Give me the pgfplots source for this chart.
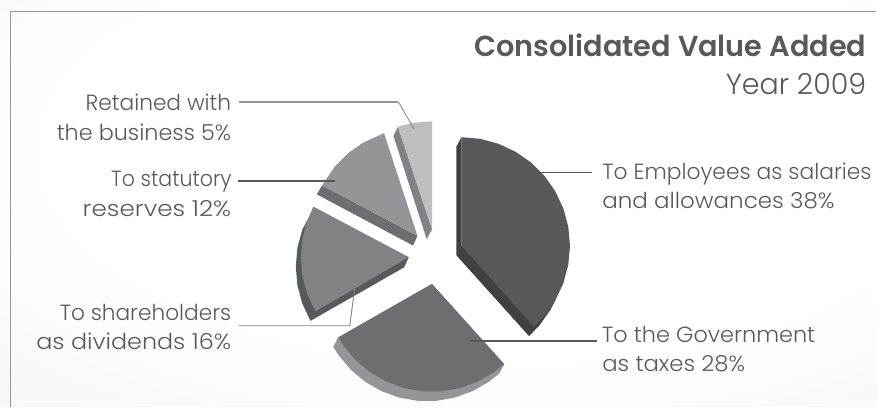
\documentclass[border=0pt]{standalone}
\usepackage{fontspec}
\setmainfont{Poppins}[UprightFont=* Light, BoldFont=* SemiBold]
\usepackage{graphicx}
\usepackage{pgfplots}
\pgfplotsset{compat=1.18}
\definecolor{inkA}{HTML}{58595B}
\definecolor{inkB}{HTML}{414042}
\definecolor{inkC}{HTML}{6D6E71}
\definecolor{inkD}{HTML}{939598}
\definecolor{inkE}{HTML}{808285}
\definecolor{inkF}{HTML}{BCBEC0}
\definecolor{paper}{HTML}{EFF0F0}
\pgfdeclareradialshading{backdrop}{\pgfpoint{8bp}{14bp}}{color(0bp)=(white);color(26bp)=(white);color(50bp)=(paper)}

% x, baseline, width in px, text
\newcommand{\labR}[4]{\node[anchor=base east,text=inkA,inner sep=0pt,font=\fontsize{22}{22}\selectfont] at (axis cs:#1,#2) {\resizebox{#3pt}{\height}{#4}};}
\newcommand{\labL}[4]{\node[anchor=base west,text=inkA,inner sep=0pt,font=\fontsize{22}{22}\selectfont] at (axis cs:#1,#2) {\resizebox{#3pt}{\height}{#4}};}

\begin{document}
\begin{tikzpicture}
\begin{axis}[
    scale only axis, width=877pt, height=407pt,
    xmin=0, xmax=877, ymin=0, ymax=407, y dir=reverse,
    axis lines=none, clip=false]

% backdrop, pixel coordinates of the picture
\shade[shading=backdrop] (axis cs:0,0) rectangle (axis cs:877,407);
\addplot[inkD, line width=1.2pt] coordinates {(10.5,407) (10.5,11.5) (877,11.5)};

% side faces
\addplot[fill=inkB, draw=none] coordinates {(461.7,137.3) (456.7,146.8) (456.7,255.5) (529.4,336.3) (540,325.4) (550.8,309.9) (555.8,300.4) (461.7,246)} --cycle;
\addplot[fill=inkD, draw=none] coordinates {(338.5,337.5) (333.5,347) (338.8,355.4) (350.9,369.9) (365.4,382) (381.7,391.4) (399.3,397.8) (417.9,401.1) (436.7,401.1) (455.3,397.8) (472.9,391.4) (489.2,382) (499.6,373.8) (504.6,364.3)} --cycle;
\addplot[fill=inkA, draw=none] coordinates {(307.5,220.4) (302.5,229.9) (297.6,248) (296,266.8) (297.6,285.6) (302.5,303.7) (310.7,321.1) (404.5,267.5) (409,257.3)} --cycle;
\addplot[fill=inkC, draw=none] coordinates {(322.3,185.5) (317,194.5) (413.3,245.7) (417.7,236)} --cycle;
\addplot[fill=inkE, draw=none] coordinates {(398.2,126.8) (393.7,136) (427,239.3) (432.3,229.3)} --cycle;

% top faces: 38, 28, 16, 12, 5 per cent
\addplot[fill=inkA, draw=none] coordinates {(461.7,246) (461.7,137.3) (480.6,138.9) (498.9,143.9) (516,151.9) (531.6,162.7) (545,176.1) (555.8,191.7) (563.8,208.8) (568.7,227.1) (570.4,246) (568.7,264.9) (563.8,283.2) (555.8,300.4) (545,315.9) (534.4,326.8)} --cycle;
\addplot[fill=inkC, draw=none] coordinates {(432.3,284) (504.6,364.3) (494.2,372.5) (477.9,381.9) (460.3,388.3) (441.7,391.6) (422.9,391.6) (404.3,388.3) (386.7,381.9) (370.4,372.5) (355.9,360.4) (343.8,345.9) (338.5,337.5)} --cycle;
\addplot[fill=inkE, draw=none] coordinates {(409,257.3) (313.6,206.8) (307.5,220.4) (302.6,238.5) (301,257.3) (302.6,276.1) (307.5,294.2) (315.7,311.6)} --cycle;
\addplot[fill=inkD, draw=none] coordinates {(417.7,236) (322.3,185.5) (335,166.6) (348.3,153.3) (363.7,142.5) (384.3,133.3)} --cycle;
\addplot[fill=inkF, draw=none] coordinates {(432.3,229.3) (398.2,126.8) (413.5,122.9) (432.3,121.3)} --cycle;

% leader lines
\addplot[inkD, line width=1.5pt] coordinates {(239,102) (398.7,102)};
\addplot[inkE, line width=0.8pt] coordinates {(398.7,102) (414.3,129)};
\addplot[inkA, line width=1.8pt] coordinates {(238.5,180.8) (335,180.8)};
\addplot[inkE, line width=0.9pt] coordinates {(239,326) (350,326) (356.7,275)};
\addplot[inkA, line width=1.8pt] coordinates {(541.7,172.7) (592.7,172.7)};
\addplot[inkA, line width=1.8pt] coordinates {(470,341) (597,341)};

% labels
\labR{231.5}{110.7}{145.5}{Retained with}
\labR{231.5}{140.7}{174.5}{the business 5\%}
\labR{232}{186.7}{120.5}{To statutory}
\labR{231.5}{216.7}{148.5}{reserves 12\%}
\labR{231.5}{320.7}{171.5}{To shareholders}
\labR{231.5}{349.7}{195}{as dividends 16\%}
\labL{602.5}{179.3}{269.5}{To Employees as salaries}
\labL{602.5}{209}{232.5}{and allowances 38\%}
\labL{602}{342.7}{213.5}{To the Government}
\labL{602.5}{371.7}{143}{as taxes 28\%}

% title
\node[anchor=base east,text=inkA,inner sep=0pt,font=\fontsize{29}{29}\selectfont\bfseries] at (axis cs:867,56.7) {\resizebox{392pt}{\height}{Consolidated Value Added}};
\node[anchor=base east,text=inkA,inner sep=0pt,font=\fontsize{29}{29}\selectfont] at (axis cs:867,94.3) {\resizebox{140.5pt}{\height}{Year 2009}};
\end{axis}
\end{tikzpicture}
\end{document}
